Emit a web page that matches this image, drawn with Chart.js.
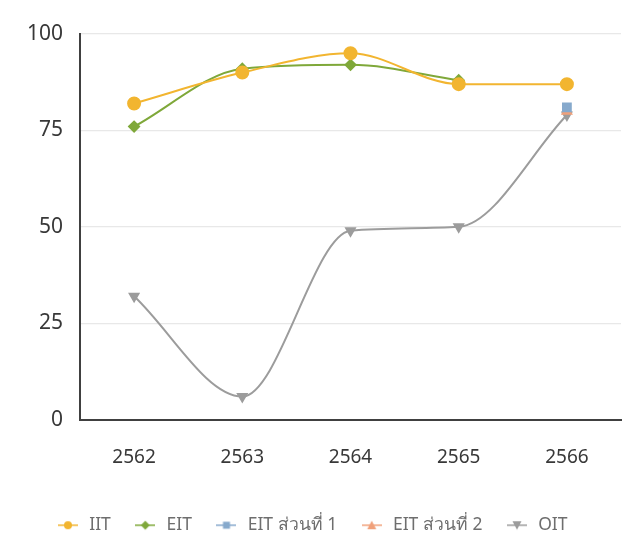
<!DOCTYPE html>
<html><head><meta charset="utf-8">
<script src="https://cdn.jsdelivr.net/npm/chart.js@4.4.1/dist/chart.umd.min.js"></script>
<style>html,body{margin:0;padding:0;background:#fff}#wrap{width:629px;height:536px}</style>
</head><body><div id="wrap"><canvas id="c" width="629" height="536"></canvas></div>
<script>
const years = ['2562','2563','2564','2565','2566'];
const iit = [82, 90, 95, 87, 87];
const eit = [76, 91, 92, 88, null];
const eitPart1 = [null, null, null, null, 81];
const eitPart2 = [null, null, null, null, 80];
const oit = [32, 6, 49, 50, 79];
const yTicks = [0, 25, 50, 75, 100];

function legendIcon(color, style, rot){
  const c = document.createElement('canvas');
  c.width = 20; c.height = 12;
  const g = c.getContext('2d');
  g.strokeStyle = color; g.lineWidth = 1.5;
  g.beginPath(); g.moveTo(0,6); g.lineTo(20,6); g.stroke();
  g.fillStyle = color;
  g.beginPath();
  if (style==='circle'){ g.arc(10,6,4,0,Math.PI*2); }
  else if (style==='rectRot'){ g.moveTo(10,1.5); g.lineTo(14.5,6); g.lineTo(10,10.5); g.lineTo(5.5,6); g.closePath(); }
  else if (style==='rect'){ g.rect(6.5,2.5,7,7); }
  else if (style==='triangle' && !rot){ g.moveTo(10,1.5); g.lineTo(14.5,10); g.lineTo(5.5,10); g.closePath(); }
  else { g.moveTo(10,10.5); g.lineTo(14.5,2); g.lineTo(5.5,2); g.closePath(); }
  g.fill();
  return c;
}

const defs = [
  {label:'IIT', data: iit, color:'#F2B530', style:'circle', r:6, rot:0},
  {label:'EIT', data: eit, color:'#7FA83A', style:'rectRot', r:5, rot:0},
  {label:'EIT ส่วนที่ 1', data: eitPart1, color:'#86A9CC', style:'rect', r:5.5, rot:0},
  {label:'EIT ส่วนที่ 2', data: eitPart2, color:'#F0A07A', style:'triangle', r:5, rot:0},
  {label:'OIT', data: oit, color:'#9C9C9C', style:'triangle', r:5, rot:180},
];

const datasets = defs.map((d, i) => ({
  label: d.label,
  data: d.data,
  borderColor: d.color,
  backgroundColor: d.color,
  pointBackgroundColor: d.color,
  pointBorderColor: d.color,
  pointStyle: d.style,
  pointRotation: d.rot,
  pointRadius: d.r,
  borderWidth: 2,
  cubicInterpolationMode: 'monotone',
  spanGaps: false,
  order: i + 1,
  legendIcon: legendIcon(d.color, d.style, d.rot)
}));

const FONT = '"Noto Sans", "Open Sans", sans-serif';

new Chart(document.getElementById('c'), {
  type: 'line',
  data: { labels: years, datasets },
  options: {
    responsive: false,
    animation: false,
    layout: { padding: { top: 34, right: 6, left: 0, bottom: -8 } },
    plugins: {
      tooltip: { enabled: false },
      legend: {
        position: 'bottom',
        labels: {
          usePointStyle: true,
          pointStyleWidth: 25,
          color: '#6e6e6e',
          font: { family: FONT, size: 17.5 },
          padding: 22,
          generateLabels(chart){
            return chart.data.datasets.map((ds,i) => ({
              text: ds.label,
              fillStyle: ds.borderColor,
              strokeStyle: ds.borderColor,
              fontColor: '#6e6e6e',
              pointStyle: ds.legendIcon,
              hidden: false,
              datasetIndex: i,
              lineWidth: 0
            }));
          }
        }
      }
    },
    scales: {
      x: {
        offset: true,
        grid: { display: false, drawTicks: false },
        border: { color: '#404040', width: 2 },
        ticks: { color: '#383838', font: { family: FONT, size: 19 }, padding: 26 }
      },
      y: {
        min: 0, max: 100,
        afterBuildTicks: s => { s.ticks = yTicks.map(v => ({ value: v })); },
        afterFit: s => { s.width = 80; },
        grid: { color: '#e8e8e8', lineWidth: 1.2, drawTicks: false },
        border: { color: '#404040', width: 2 },
        ticks: { color: '#383838', font: { family: FONT, size: 21 }, padding: 17 }
      }
    }
  }
});
</script>
</body></html>
